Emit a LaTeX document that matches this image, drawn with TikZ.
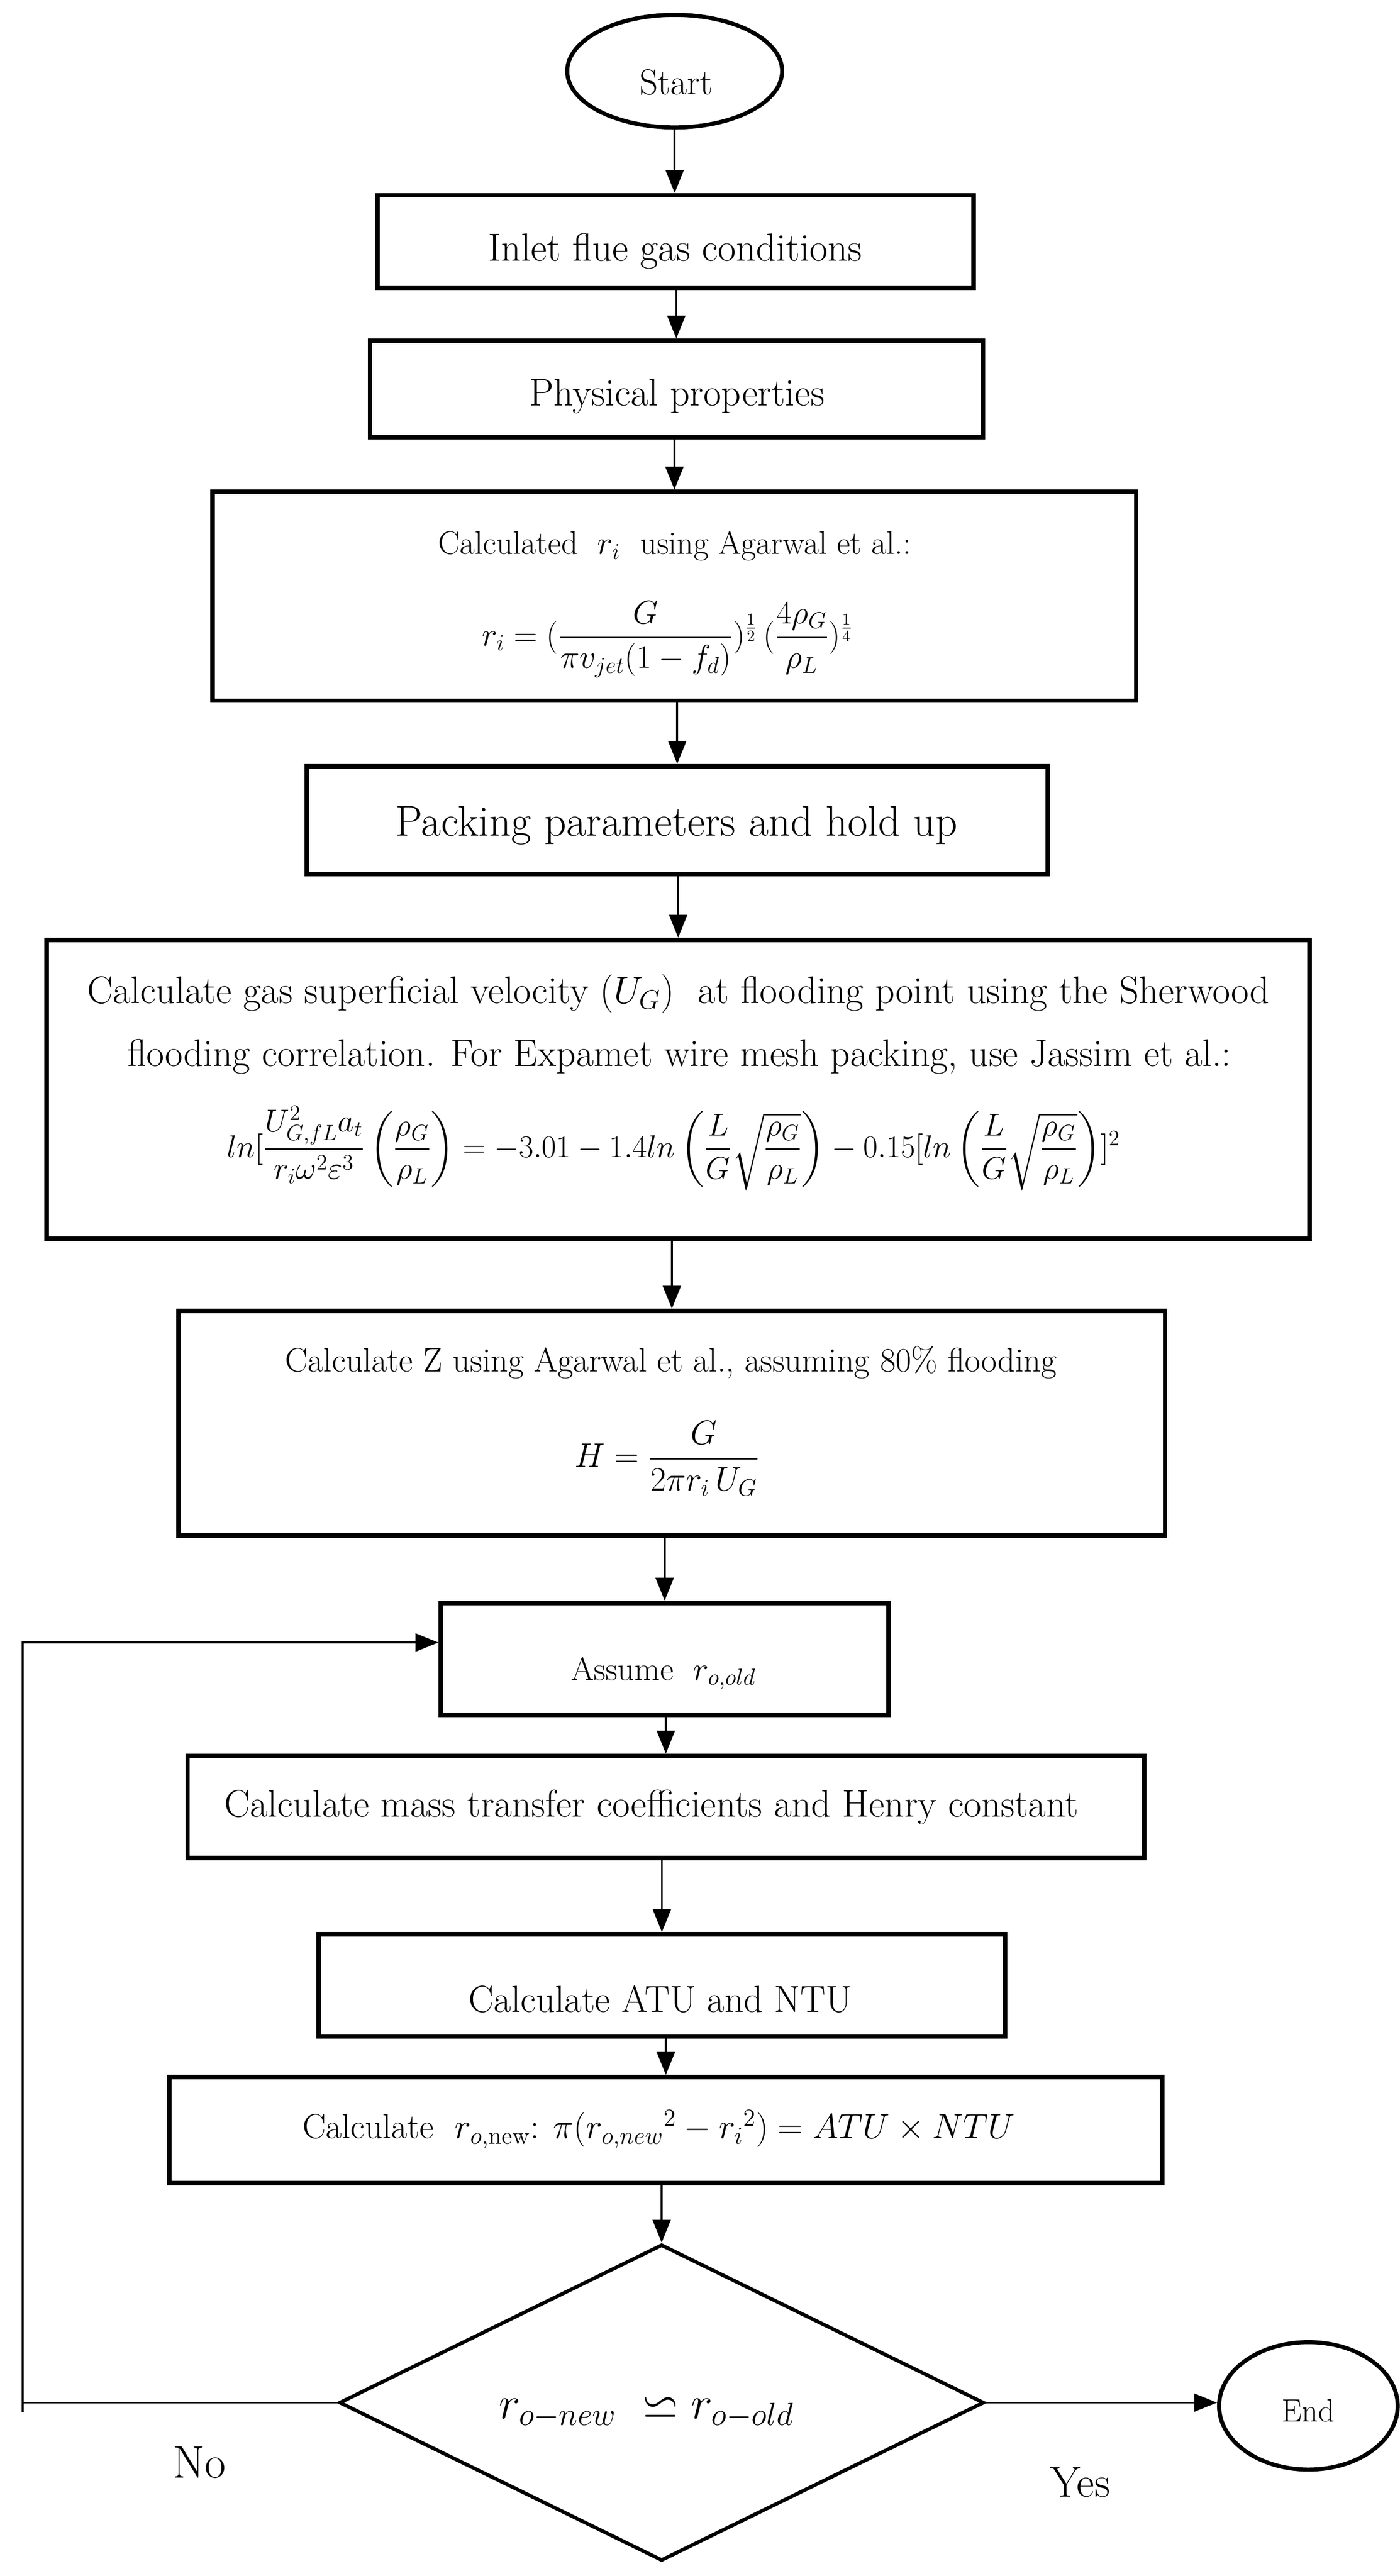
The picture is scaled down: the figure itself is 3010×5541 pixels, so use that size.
\RequirePackage{fix-cm}
\documentclass[tikz,border=0pt]{standalone}
\usepackage{amsmath,amssymb}
\usetikzlibrary{arrows.meta,shapes.geometric}
\newcommand\fsz[2]{\fontsize{#1}{#2}\selectfont}
\begin{document}
\begin{tikzpicture}[x=0.01cm,y=-0.01cm,
  box/.style={draw,line width=2.8pt,rectangle,inner sep=0pt},
  oval/.style={draw,line width=2.5pt,ellipse,inner sep=0pt},
  txt/.style={anchor=base,inner sep=0pt},
  arr/.style={line width=1.2pt,-{Triangle[length=14pt,width=11pt]}},
  ln/.style={line width=1.2pt}]
\useasboundingbox (0,0) rectangle (3010,5541);
\fill[white] (0,0) rectangle (3010,5541);

% shapes
\node[oval,minimum width=4.62cm,minimum height=2.42cm] (start) at (1451,153) {};
\node[box,minimum width=12.82cm,minimum height=1.99cm] (b1) at (1453,519.5) {};
\node[box,minimum width=13.17cm,minimum height=2.07cm] (b2) at (1454.5,836.5) {};
\node[box,minimum width=19.85cm,minimum height=4.49cm] (b3) at (1450.5,1282.5) {};
\node[box,minimum width=15.93cm,minimum height=2.32cm] (b4) at (1456.5,1764) {};
\node[box,minimum width=27.15cm,minimum height=6.42cm] (b5) at (1458.5,2343) {};
\node[box,minimum width=21.20cm,minimum height=4.83cm] (b6) at (1445,3061.5) {};
\node[box,minimum width=9.63cm,minimum height=2.41cm] (b7) at (1429.5,3568.5) {};
\node[box,minimum width=20.56cm,minimum height=2.20cm] (b8) at (1432,3887) {};
\node[box,minimum width=14.75cm,minimum height=2.19cm] (b9) at (1423.5,4270.5) {};
\node[box,minimum width=21.34cm,minimum height=2.28cm] (b10) at (1432,4582) {};
\node[draw,line width=2.2pt,diamond,minimum width=13.86cm,minimum height=6.8cm,inner sep=0pt] (dia) at (1423,5168) {};
\node[oval,minimum width=3.84cm,minimum height=2.74cm] (end) at (2814,5175) {};

% texts
\node[txt] (tstart) at (1454,203) {\fsz{22}{26}Start};
\node[txt] (t1) at (1452,561) {\fsz{24}{28}Inlet flue gas conditions};
\node[txt] (t2) at (1456,873) {\fsz{23.7}{28}Physical properties};
\node[txt] (t3) at (1451,1192) {\fsz{20}{24}Calculated\ \ $r_i$\ \ using Agarwal et al.:};
\node[txt] (f3) at (1436,1389) {\fsz{20}{24}$r_i = (\dfrac{G}{\pi v_{jet}(1-f_d)})^{\frac{1}{2}}\,(\dfrac{4\rho_G}{\rho_L})^{\frac{1}{4}}$};
\node[txt] (t4) at (1455,1798) {\fsz{26.4}{31}Packing parameters and hold up};
\node[txt] (t5a) at (1459,2158) {\fsz{23.5}{28}Calculate gas superficial velocity $(U_G)$\ \ at flooding point using the Sherwood};
\node[txt] (t5b) at (1461,2293) {\fsz{23.5}{28}flooding correlation. For Expamet wire mesh packing, use Jassim et al.:};
\node[txt] (f5) at (1449,2489) {\fsz{19.3}{23}$ln[\dfrac{U^2_{G,fL}a_t}{r_i\omega^2\varepsilon^3}\left(\dfrac{\rho_G}{\rho_L}\right) = -3.01 - 1.4ln\left(\dfrac{L}{G}\sqrt{\dfrac{\rho_G}{\rho_L}}\right) - 0.15[ln\left(\dfrac{L}{G}\sqrt{\dfrac{\rho_G}{\rho_L}}\right)]^2$};
\node[txt] (t6) at (1443,2951) {\fsz{20.8}{25}Calculate Z using Agarwal et al., assuming 80\% flooding};
\node[txt] (f6) at (1434.5,3156) {\fsz{20.8}{25}$H = \dfrac{G}{2\pi r_i\, U_G}$};
\node[txt] (t7) at (1427,3614) {\fsz{20.2}{24}Assume\ \ $r_{o,old}$};
\node[txt] (t8) at (1401,3908) {\fsz{23.5}{28}Calculate mass transfer coefficients and Henry constant};
\node[txt] (t9) at (1420,4328) {\fsz{23}{27}Calculate ATU and NTU};
\node[txt] (t10) at (1417,4600) {\fsz{21.3}{25}Calculate\ \ $r_{o,\mathrm{new}}$: $\pi({r_{o,new}}^{2}-{r_i}^{2}) = ATU\times NTU$};
\node[txt] (tdia) at (1390,5202) {\fsz{28}{32}$r_{o-new}\ \backsimeq r_{o-old}$};
\node[txt] (tend) at (2814,5209) {\fsz{19.7}{23}End};
\node[txt] (tno) at (429,5330) {\fsz{28}{32}No};
\node[txt] (tyes) at (2323,5371) {\fsz{26.5}{31}Yes};

% connectors
\draw[arr] (start.south) -- (start.south |- b1.north);
\draw[arr] (b2.north |- b1.south) -- (b2.north);
\draw[arr] (b3.north |- b2.south) -- (b3.north);
\draw[arr] (b4.north |- b3.south) -- (b4.north);
\draw[arr] (b5.north |- b4.south) -- (b5.north);
\draw[arr] (b6.north |- b5.south) -- (b6.north);
\draw[arr] (b7.north |- b6.south) -- (b7.north);
\draw[arr] (b8.north |- b7.south) -- (b8.north);
\draw[arr] (b9.north |- b8.south) -- (b9.north);
\draw[arr] (b10.north |- b9.south) -- (b10.north);
\draw[arr] (dia.north |- b10.south) -- (dia.north);
\draw[arr] (dia.east) -- (end.west |- dia.east);

\coordinate (lbot) at (49,5188);
\coordinate (lcorner) at (49,3533);
\draw[ln] (dia.west) -- (dia.west -| lbot);
\draw[arr] (lbot) -- (lcorner) -- (lcorner -| b7.west);
\end{tikzpicture}
\end{document}
